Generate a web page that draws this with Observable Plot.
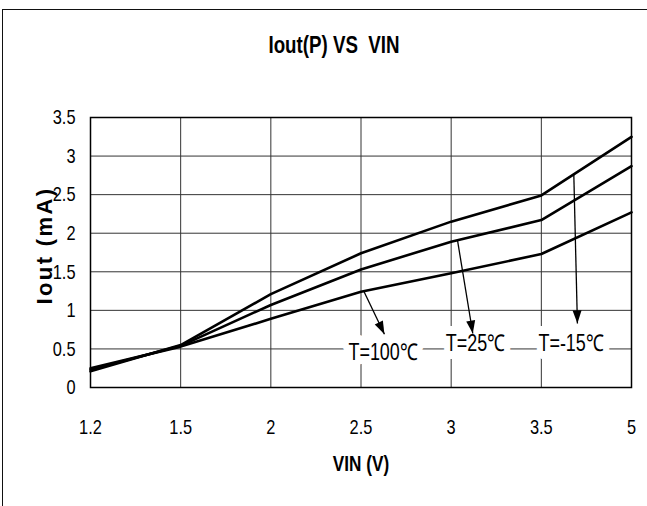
<!DOCTYPE html>
<html>
<head>
<meta charset="utf-8">
<script src="https://cdn.jsdelivr.net/npm/d3@7"></script>
<script src="https://cdn.jsdelivr.net/npm/@observablehq/plot@0.6"></script>
<style>
  body { margin: 0; background: #fff; }
  #page {
    position: relative; width: 647px; height: 506px; overflow: hidden;
    font-family: "Liberation Sans", Arial, sans-serif;
    color: #000;
  }
  #box {
    position: absolute; left: 2px; top: 9px; width: 700px; height: 600px;
    border-left: 1.5px solid #111; border-top: 1.5px solid #111;
  }
  #title {
    position: absolute; top: 31px; left: 184px; width: 300px;
    text-align: center; font-weight: bold; font-size: 24px; white-space: pre;
    transform: scaleX(0.78); transform-origin: 50% 50%;
  }
  #chart { position: absolute; left: 0; top: 70px; }
  .ylabel text { letter-spacing: 2.4px; }
</style>
</head>
<body>
<div id="page">
  <div id="box"></div>
  <div id="title">Iout(P) VS  VIN</div>
  <div id="chart"></div>
</div>
<script>
// Input voltage categories (evenly spaced on the axis)
const vin = ["1.2", "1.5", "2", "2.5", "3", "3.5", "5"];

// Output current (mA) per temperature
const ioutMinus15 = [0.21, 0.55, 1.21, 1.74, 2.15, 2.49, 3.25];
const iout25 = [0.23, 0.54, 1.07, 1.53, 1.89, 2.17, 2.87];
const iout100 = [0.25, 0.53, 0.89, 1.24, 1.48, 1.73, 2.27];

const yTicks = [0, 0.5, 1, 1.5, 2, 2.5, 3, 3.5];

// Curve callouts: label text, label position, and arrow from curve to label
const labelText = ["T=100℃", "T=25℃", "T=-15℃"];
const labelX = [3.245, 4.27, 5.33];
const labelY = [0.45, 0.57, 0.57];
const arrowX1 = [3.03, 4.07, 5.36];
const arrowY1 = [1.25, 1.91, 2.77];
const arrowX2 = [3.26, 4.24, 5.40];
const arrowY2 = [0.69, 0.70, 0.83];

const series = [
  {name: "-15", values: ioutMinus15},
  {name: "25", values: iout25},
  {name: "100", values: iout100}
];
const rows = series.flatMap(s => s.values.map((v, i) => ({series: s.name, i, v})));

const fontFamily = '"Liberation Sans", Arial, sans-serif';

// Solid triangular arrowhead
function filledArrow(color) {
  const ns = "http://www.w3.org/2000/svg";
  const m = document.createElementNS(ns, "marker");
  m.setAttribute("viewBox", "-13 -4.5 13 9");
  m.setAttribute("markerWidth", 13);
  m.setAttribute("markerHeight", 9);
  m.setAttribute("markerUnits", "userSpaceOnUse");
  m.setAttribute("orient", "auto");
  m.setAttribute("overflow", "visible");
  const p = document.createElementNS(ns, "path");
  p.setAttribute("d", "M-13,-4.5L0,0L-13,4.5Z");
  p.setAttribute("fill", color);
  p.setAttribute("stroke", "none");
  m.appendChild(p);
  return m;
}

const idx = d3.range(vin.length);

const chart = Plot.plot({
  width: 647,
  height: 436,
  marginLeft: 90,
  marginRight: 16,
  marginTop: 47,
  marginBottom: 119,
  style: {fontFamily, fontSize: "21px", color: "#000", background: "transparent", overflow: "visible"},
  x: {domain: [0, vin.length - 1]},
  y: {domain: [0, 3.5]},
  marks: [
    Plot.gridX(idx, {stroke: "#333", strokeOpacity: 1, strokeWidth: 1}),
    Plot.gridY(yTicks, {stroke: "#333", strokeOpacity: 1, strokeWidth: 1}),
    Plot.frame({stroke: "#000", strokeWidth: 1.5}),
    Plot.axisX(idx, {tickSize: 0, tickPadding: 32, tickFormat: i => vin[i], label: null}),
    Plot.axisY(yTicks, {tickSize: 0, tickPadding: 15, tickFormat: d => String(d), label: null}),
    Plot.line(rows, {x: "i", y: "v", z: "series", stroke: "#000", strokeWidth: 2.6}),
    Plot.text(labelText, {
      x: (d, i) => labelX[i], y: (d, i) => labelY[i], text: d => d,
      fill: "#000", stroke: "white", strokeWidth: 16, fontSize: 23
    }),
    Plot.link(labelText, {
      x1: (d, i) => arrowX1[i], y1: (d, i) => arrowY1[i],
      x2: (d, i) => arrowX2[i], y2: (d, i) => arrowY2[i],
      stroke: "#000", strokeWidth: 1.3, markerEnd: filledArrow
    }),
    Plot.text(["VIN (V)"], {frameAnchor: "bottom", dy: 83, fontWeight: "bold", fontSize: 22}),
    Plot.text(["Iout (mA)"], {
      frameAnchor: "left", textAnchor: "middle", dx: -46, dy: -7, rotate: -90,
      fontWeight: "bold", fontSize: 22, className: "ylabel"
    })
  ]
});

document.getElementById("chart").appendChild(chart);

// Condense chart text horizontally (narrow typeface look); the rotated
// axis title keeps its natural glyphs with added letter spacing
chart.querySelectorAll("text").forEach(t => {
  if (t.closest(".ylabel")) return;
  const w = t.getComputedTextLength();
  t.setAttribute("textLength", (w * 0.78).toFixed(1));
  t.setAttribute("lengthAdjust", "spacingAndGlyphs");
});
</script>
</body>
</html>
